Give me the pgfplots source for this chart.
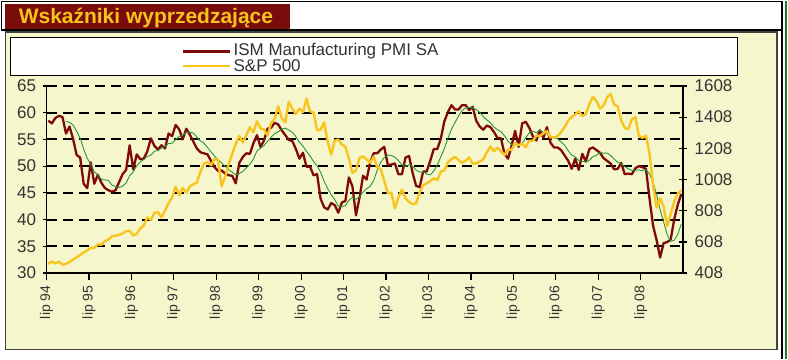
\documentclass[border=0pt]{standalone}
\usepackage{pgfplots}
\pgfplotsset{compat=1.18}
\usepackage{fontspec}
\setmainfont{Liberation Sans}
\definecolor{cream}{RGB}{246,246,204}
\definecolor{titlered}{RGB}{122,12,12}
\definecolor{titleyel}{RGB}{244,196,28}
\definecolor{pmired}{RGB}{128,10,10}
\definecolor{spyel}{RGB}{250,196,30}
\definecolor{magreen}{RGB}{40,150,50}
\definecolor{edgegreen}{RGB}{30,120,40}
\begin{document}
\begin{tikzpicture}
\fill[white] (0pt,0pt) rectangle (788pt,358pt);
% panel
\fill[cream] (5pt,9pt) rectangle (777pt,327pt);
\draw[black!75, line width=1.2pt] (5pt,9pt) rectangle (777pt,327pt);
% frame lines
\draw[black, line width=1.2pt] (0pt,357.4pt) -- (781pt,357.4pt);
\draw[black, line width=1.2pt] (0pt,329pt) -- (781pt,329pt);
\draw[black, line width=1.2pt] (1pt,358pt) -- (1pt,329pt);
\draw[black, line width=1.5pt] (782pt,0pt) -- (782pt,358pt);
\draw[edgegreen, line width=2pt] (786pt,0pt) -- (786pt,358pt);
% title bar
\fill[titlered] (4pt,330pt) rectangle (290pt,355pt);
\node[anchor=base west, inner sep=0pt, text=titleyel, font=\fontsize{21}{21}\selectfont\bfseries] at (18pt,335pt) {Wskaźniki wyprzedzające};
% legend
\draw[black, fill=white, line width=1pt] (10pt,283pt) rectangle (737pt,321pt);
\draw[pmired, line width=2.6pt] (183pt,307.3pt) -- (230pt,307.3pt);
\draw[spyel, line width=2.6pt] (183pt,293pt) -- (230pt,293pt);
\node[anchor=west, inner sep=0pt, text=black!80, font=\fontsize{17}{17}\selectfont] at (233pt,307.8pt) {ISM Manufacturing PMI SA};
\node[anchor=west, inner sep=0pt, text=black!80, font=\fontsize{17}{17}\selectfont] at (233pt,293.5pt) {S\&P 500};

\begin{axis}[
  name=pmi,
  at={(46pt,85.7pt)}, anchor=south west, scale only axis,
  width=637pt, height=187.3pt,
  xmin=-0.5, xmax=179.5, ymin=30, ymax=65,
  axis x line*=bottom, axis y line*=left,
  axis line style={black, line width=1.3pt, -},
  xtick={-0.5,11.5,...,167.5},
  xticklabels={lip 94,lip 95,lip 96,lip 97,lip 98,lip 99,lip 00,lip 01,lip 02,lip 03,lip 04,lip 05,lip 06,lip 07,lip 08},
  ytick={30,35,...,65},
  ymajorgrids,
  major grid style={black, line width=2.1pt, dash pattern=on 10pt off 6pt},
  tick align=center, major tick length=8pt,
  tick style={black, line width=1.2pt},
  xtick style={yshift=-3pt},
  /pgf/number format/assume math mode=true,
  yticklabel style={font=\fontsize{17}{17}\selectfont, text=black!80},
  yticklabel shift=3pt,
  xticklabel shift=5pt,
  xticklabel style={rotate=90, anchor=east, font=\fontsize{14}{14}\selectfont, text=black!80},
  clip=false,
]
\addplot[pmired, line width=2.3pt, line join=round] coordinates {
(0,58.5)(1,58.0)(2,59.0)(3,59.4)(4,59.2)(5,56.1)(6,57.4)(7,55.1)(8,52.1)(9,51.6)(10,46.7)(11,45.9)
(12,50.7)(13,46.7)(14,48.4)(15,46.9)(16,45.9)(17,45.5)(18,45.2)(19,45.5)(20,47.0)(21,48.5)(22,49.3)(23,53.9)
(24,49.4)(25,52.2)(26,51.3)(27,51.4)(28,52.8)(29,55.2)(30,53.8)(31,53.1)(32,53.9)(33,53.3)(34,56.1)(35,55.6)
(36,57.7)(37,56.9)(38,55.0)(39,57.0)(40,55.9)(41,54.6)(42,53.3)(43,52.6)(44,52.4)(45,52.2)(46,51.0)(47,49.8)
(48,49.1)(49,49.2)(50,48.6)(51,48.3)(52,48.2)(53,46.8)(54,50.6)(55,51.7)(56,52.4)(57,52.3)(58,54.3)(59,55.8)
(60,53.6)(61,54.8)(62,57.0)(63,57.2)(64,58.1)(65,57.8)(66,56.7)(67,55.8)(68,54.9)(69,54.7)(70,53.2)(71,51.4)
(72,52.5)(73,49.9)(74,49.9)(75,48.3)(76,48.5)(77,43.9)(78,42.3)(79,41.9)(80,43.1)(81,42.7)(82,41.3)(83,43.2)
(84,43.5)(85,47.9)(86,46.2)(87,40.8)(88,44.1)(89,48.2)(90,47.5)(91,50.7)(92,52.4)(93,52.4)(94,53.1)(95,53.6)
(96,50.2)(97,50.3)(98,50.5)(99,48.5)(100,48.5)(101,51.6)(102,51.9)(103,48.8)(104,46.3)(105,46.1)(106,49.0)(107,49.0)
(108,51.0)(109,53.2)(110,53.2)(111,55.2)(112,58.4)(113,60.1)(114,61.4)(115,60.6)(116,60.6)(117,61.4)(118,61.4)(119,60.5)
(120,61.1)(121,58.5)(122,57.4)(123,56.8)(124,57.6)(125,57.3)(126,56.4)(127,55.3)(128,55.2)(129,52.3)(130,51.4)(131,53.8)
(132,56.6)(133,53.6)(134,58.0)(135,58.3)(136,57.2)(137,55.6)(138,54.8)(139,56.7)(140,55.3)(141,57.3)(142,54.4)(143,53.5)
(144,53.5)(145,53.0)(146,52.0)(147,51.0)(148,49.5)(149,51.4)(150,49.3)(151,52.3)(152,50.9)(153,53.2)(154,53.5)(155,53.0)
(156,52.5)(157,51.5)(158,51.0)(159,50.5)(160,49.4)(161,49.5)(162,50.6)(163,48.5)(164,48.6)(165,48.5)(166,49.6)(167,50.0)
(168,49.8)(169,49.5)(170,44.0)(171,38.9)(172,36.2)(173,32.9)(174,35.6)(175,35.8)(176,36.3)(177,40.1)(178,42.8)(179,44.8)
};
\addplot[magreen, line width=0.9pt] coordinates {
(5,58.37)(6,58.18)(7,57.70)(8,56.55)(9,55.25)(10,53.17)(11,51.47)(12,50.35)(13,48.95)(14,48.33)(15,47.55)(16,47.42)(17,47.35)
(18,46.43)(19,46.23)(20,46.00)(21,46.27)(22,46.83)(23,48.23)(24,48.93)(25,50.05)(26,50.77)(27,51.25)(28,51.83)(29,52.05)
(30,52.78)(31,52.93)(32,53.37)(33,53.68)(34,54.23)(35,54.30)(36,54.95)(37,55.58)(38,55.77)(39,56.38)(40,56.35)(41,56.18)
(42,55.45)(43,54.73)(44,54.30)(45,53.50)(46,52.68)(47,51.88)(48,51.18)(49,50.62)(50,49.98)(51,49.33)(52,48.87)(53,48.37)
(54,48.62)(55,49.03)(56,49.67)(57,50.33)(58,51.35)(59,52.85)(60,53.35)(61,53.87)(62,54.63)(63,55.45)(64,56.08)(65,56.42)
(66,56.93)(67,57.10)(68,56.75)(69,56.33)(70,55.52)(71,54.45)(72,53.75)(73,52.77)(74,51.93)(75,50.87)(76,50.08)(77,48.83)
(78,47.13)(79,45.80)(80,44.67)(81,43.73)(82,42.53)(83,42.42)(84,42.62)(85,43.62)(86,44.13)(87,43.82)(88,44.28)(89,45.12)
(90,45.78)(91,46.25)(92,47.28)(93,49.22)(94,50.72)(95,51.62)(96,52.07)(97,52.00)(98,51.68)(99,51.03)(100,50.27)(101,49.93)
(102,50.22)(103,49.97)(104,49.27)(105,48.87)(106,48.95)(107,48.52)(108,48.37)(109,49.10)(110,50.25)(111,51.77)(112,53.33)(113,55.18)
(114,56.92)(115,58.15)(116,59.38)(117,60.42)(118,60.92)(119,60.98)(120,60.93)(121,60.58)(122,60.05)(123,59.28)(124,58.65)(125,58.12)
(126,57.33)(127,56.80)(128,56.43)(129,55.68)(130,54.65)(131,54.07)(132,54.10)(133,53.82)(134,54.28)(135,55.28)(136,56.25)(137,56.55)
(138,56.25)(139,56.77)(140,56.32)(141,56.15)(142,55.68)(143,55.33)(144,55.12)(145,54.50)(146,53.95)(147,52.90)(148,52.08)(149,51.73)
(150,51.03)(151,50.92)(152,50.73)(153,51.10)(154,51.77)(155,52.03)(156,52.57)(157,52.43)(158,52.45)(159,52.00)(160,51.32)(161,50.73)
(162,50.42)(163,49.92)(164,49.52)(165,49.18)(166,49.22)(167,49.30)(168,49.17)(169,49.33)(170,48.57)(171,46.97)(172,44.73)(173,41.88)
(174,39.52)(175,37.23)(176,35.95)(177,36.15)(178,37.25)(179,39.23)
};
\end{axis}

\begin{axis}[
  at={(pmi.south west)}, anchor=south west, scale only axis,
  width=637pt, height=187.3pt,
  xmin=-0.5, xmax=179.5, ymin=400, ymax=1600,
  axis y line*=right, axis x line=none,
  axis line style={black, line width=1.3pt, -},
  ytick={400,600,...,1600},
  yticklabels={408,608,808,1008,1208,1408,1608},
  tick align=center, major tick length=8pt,
  tick style={black, line width=1.2pt},
  yticklabel style={font=\fontsize{17}{17}\selectfont, text=black!80},
  yticklabel shift=4pt,
  clip=false,
]
\addplot[spyel, line width=2.4pt, line join=round] coordinates {
(0,458)(1,475)(2,463)(3,472)(4,454)(5,459)
(6,470)(7,487)(8,501)(9,515)(10,533)(11,545)(12,562)(13,562)(14,584)(15,582)(16,605)(17,616)
(18,636)(19,640)(20,646)(21,654)(22,669)(23,671)(24,640)(25,652)(26,687)(27,705)(28,757)(29,741)
(30,786)(31,791)(32,757)(33,801)(34,848)(35,885)(36,954)(37,899)(38,947)(39,915)(40,955)(41,970)
(42,980)(43,1049)(44,1102)(45,1112)(46,1091)(47,1134)(48,1121)(49,957)(50,1017)(51,1099)(52,1164)(53,1229)
(54,1280)(55,1238)(56,1286)(57,1335)(58,1302)(59,1373)(60,1329)(61,1320)(62,1283)(63,1363)(64,1389)(65,1469)
(66,1394)(67,1366)(68,1499)(69,1452)(70,1421)(71,1455)(72,1431)(73,1518)(74,1437)(75,1429)(76,1315)(77,1320)
(78,1366)(79,1240)(80,1160)(81,1249)(82,1256)(83,1224)(84,1211)(85,1134)(86,1041)(87,1060)(88,1139)(89,1148)
(90,1130)(91,1107)(92,1147)(93,1077)(94,1067)(95,990)(96,912)(97,916)(98,815)(99,886)(100,936)(101,880)
(102,856)(103,841)(104,848)(105,917)(106,964)(107,975)(108,990)(109,1008)(110,996)(111,1051)(112,1058)(113,1112)
(114,1131)(115,1145)(116,1126)(117,1107)(118,1121)(119,1141)(120,1102)(121,1104)(122,1115)(123,1130)(124,1174)(125,1212)
(126,1181)(127,1204)(128,1181)(129,1157)(130,1192)(131,1191)(132,1234)(133,1220)(134,1229)(135,1207)(136,1249)(137,1248)
(138,1280)(139,1281)(140,1295)(141,1311)(142,1270)(143,1270)(144,1277)(145,1304)(146,1336)(147,1378)(148,1401)(149,1418)
(150,1438)(151,1407)(152,1421)(153,1482)(154,1531)(155,1503)(156,1455)(157,1474)(158,1527)(159,1549)(160,1481)(161,1468)
(162,1379)(163,1331)(164,1323)(165,1386)(166,1400)(167,1280)(168,1267)(169,1283)(170,1166)(171,968)(172,820)(173,880)
(174,826)(175,700)(176,780)(177,860)(178,910)(179,930)
};
\end{axis}
\end{tikzpicture}
\end{document}
